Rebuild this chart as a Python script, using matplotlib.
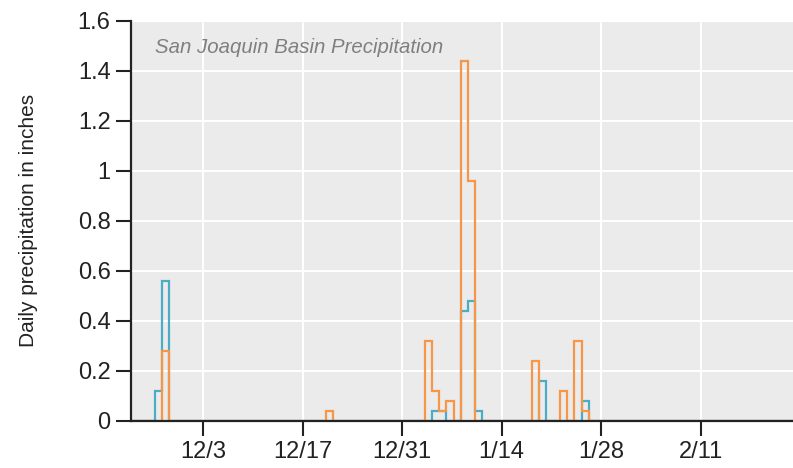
import numpy as np
import matplotlib
matplotlib.use("Agg")
import matplotlib.pyplot as plt
import matplotlib.dates as mdates
from matplotlib import font_manager
from matplotlib.ticker import FuncFormatter, MultipleLocator
import datetime as dt

plt.rcParams['font.family'] = ['Liberation Sans', 'DejaVu Sans']
available = {f.name for f in font_manager.fontManager.ttflist}
if 'Liberation Sans Narrow' in available:
    tick_family, tick_size = 'Liberation Sans Narrow', 19.5
else:
    tick_family, tick_size = 'Liberation Sans', 17

# ---- data (daily precipitation, inches) ----
blue_dates = ['2012-11-26', '2012-11-27', '2013-01-04', '2013-01-05', '2013-01-08',
              '2013-01-09', '2013-01-10', '2013-01-19', '2013-01-25']
blue_vals = [0.12, 0.56, 0.04, 0.04, 0.44, 0.48, 0.04, 0.16, 0.08]

orange_dates = ['2012-11-27', '2012-12-20', '2013-01-03', '2013-01-04', '2013-01-05',
                '2013-01-06', '2013-01-08', '2013-01-09', '2013-01-18', '2013-01-22',
                '2013-01-24', '2013-01-25']
orange_vals = [0.28, 0.04, 0.32, 0.12, 0.04, 0.08, 1.44, 0.96, 0.24, 0.12, 0.32, 0.04]

tick_dates = ['2012-12-03', '2012-12-17', '2012-12-31', '2013-01-14', '2013-01-28', '2013-02-11']
title = 'San Joaquin Basin Precipitation'
ylabel = 'Daily precipitation in inches'

# ---- figure ----
fig = plt.figure(figsize=(7.93, 4.68), dpi=100)
ax = fig.add_axes([0.1648, 0.1011, 0.8352, 0.8547])
ax.set_facecolor('#EBEBEB')

start = dt.date(2012, 11, 20)
end = dt.date(2013, 2, 26)
ndays = (end - start).days
days = [start + dt.timedelta(days=i) for i in range(ndays + 1)]
edges = mdates.date2num([dt.datetime(d.year, d.month, d.day, 6) for d in days])


def daily(dates, vals):
    arr = np.zeros(ndays)
    for s, v in zip(dates, vals):
        d = dt.date.fromisoformat(s)
        arr[(d - start).days] = v
    return arr


ax.stairs(daily(blue_dates, blue_vals), edges, color='#4BACC6', lw=1.6, zorder=2)
ax.stairs(daily(orange_dates, orange_vals), edges, color='#F79646', lw=1.6, zorder=2.2)

x0 = mdates.date2num(dt.datetime(2012, 11, 22, 19, 40))
x1 = mdates.date2num(dt.datetime(2013, 2, 24, 0, 0))
ax.set_xlim(x0, x1)
ax.set_ylim(0, 1.6)

ax.set_xticks(mdates.date2num([dt.date.fromisoformat(s) for s in tick_dates]))
ax.xaxis.set_major_formatter(FuncFormatter(
    lambda v, p: f"{mdates.num2date(v).month}/{mdates.num2date(v).day}"))
ax.yaxis.set_major_locator(MultipleLocator(0.2))
ax.yaxis.set_major_formatter(FuncFormatter(lambda v, p: f"{v:g}"))

ax.grid(True, color='white', lw=1.5)
ax.set_axisbelow(True)
for s in ['top', 'right']:
    ax.spines[s].set_visible(False)
for s in ['left', 'bottom']:
    ax.spines[s].set_color('#222222')
    ax.spines[s].set_linewidth(1.6)
    ax.spines[s].set_zorder(3)

ax.tick_params(axis='both', direction='out', length=10.5, width=1.5, color='#222222',
               labelsize=tick_size, labelcolor='#222222', pad=4)
for lab in ax.get_xticklabels() + ax.get_yticklabels():
    lab.set_family([tick_family, 'DejaVu Sans'])

ax.set_ylabel(ylabel, fontsize=15, color='#222222')
ax.yaxis.set_label_coords(-0.140, 0.5)

ax.text(0.037, 0.932, title, transform=ax.transAxes, fontsize=14.7, style='italic',
        color='#7F7F7F', ha='left', va='center')

fig.savefig('out.png', dpi=100)
